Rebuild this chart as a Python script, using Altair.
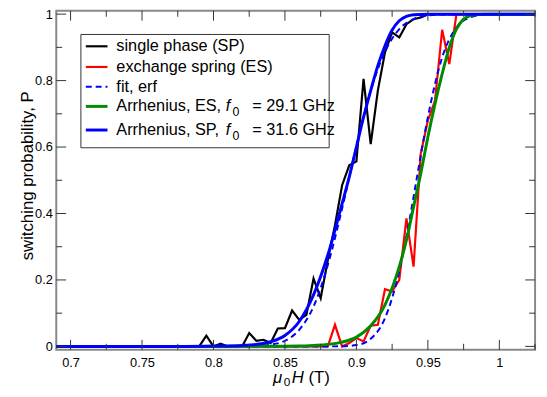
import altair as alt
import pandas as pd

FONT = "Liberation Sans"
W, H = 486, 344

# ---- measured data: single phase (SP) ----
sp_H = [0.69, 0.79, 0.795, 0.80, 0.805, 0.81, 0.82, 0.825, 0.83, 0.835, 0.84, 0.845, 0.85,
        0.855, 0.86, 0.865, 0.87, 0.875, 0.88, 0.885, 0.89, 0.895, 0.90, 0.905, 0.91,
        0.915, 0.92, 0.925, 0.93, 0.935, 0.94, 0.945, 0.95, 1.025]
sp_P = [0, 0, 0.032, 0, 0.008, 0, 0, 0.04, 0.017, 0.02, 0.01, 0.054, 0.055,
        0.108, 0.08, 0.095, 0.204, 0.145, 0.26, 0.365, 0.485, 0.545, 0.557, 0.805, 0.609,
        0.77, 0.885, 0.945, 0.93, 0.97, 0.985, 0.99, 1, 1]

# ---- measured data: exchange spring (ES) ----
es_H = [0.69, 0.88, 0.885, 0.89, 0.895, 0.90, 0.905, 0.91, 0.915, 0.92, 0.925, 0.93,
        0.935, 0.94, 0.945, 0.95, 0.955, 0.96, 0.965, 0.97, 1.025]
es_P = [0, 0, 0.065, 0, 0.01, 0.025, 0.015, 0.062, 0.065, 0.172, 0.165, 0.2,
        0.385, 0.24, 0.58, 0.68, 0.74, 0.953, 0.85, 1.0, 1.0]

# ---- erf fits ----
erf_sp_H = [0.69, 0.82, 0.83, 0.84, 0.85, 0.86, 0.87, 0.88, 0.89, 0.90, 0.91, 0.92,
            0.93, 0.94, 0.95, 0.96, 1.025]
erf_sp_P = [0, 0.0002, 0.001, 0.005, 0.017, 0.05, 0.12, 0.245, 0.415, 0.603, 0.77, 0.887,
            0.955, 0.985, 0.996, 0.999, 1]
erf_es_H = [0.69, 0.88, 0.89, 0.90, 0.91, 0.92, 0.93, 0.935, 0.94, 0.945, 0.95, 0.96,
            0.97, 0.98, 0.99, 1.025]
erf_es_P = [0, 0, 0.0006, 0.004, 0.023, 0.085, 0.227, 0.33, 0.45, 0.574, 0.69, 0.87,
            0.96, 0.991, 0.999, 1]

# ---- Arrhenius fits ----
arr_es_H = [0.69, 0.80, 0.85, 0.86, 0.87, 0.88, 0.89, 0.90, 0.91, 0.92, 0.93, 0.935,
            0.94, 0.945, 0.95, 0.955, 0.96, 0.965, 0.97, 0.975, 0.98, 0.99, 1.025]
arr_es_P = [0, 0, 0.0005, 0.001, 0.003, 0.006, 0.013, 0.028, 0.062, 0.125, 0.24, 0.32,
            0.42, 0.52, 0.63, 0.73, 0.82, 0.9, 0.955, 0.985, 0.996, 1, 1]
arr_sp_H = [0.69, 0.78, 0.80, 0.82, 0.83, 0.84, 0.85, 0.86, 0.87, 0.88, 0.89, 0.895,
            0.90, 0.905, 0.91, 0.915, 0.92, 0.925, 0.93, 0.935, 0.94, 0.95, 1.025]
arr_sp_P = [0, 0, 0.001, 0.003, 0.006, 0.014, 0.033, 0.075, 0.155, 0.275, 0.43, 0.51,
            0.60, 0.69, 0.77, 0.845, 0.905, 0.952, 0.98, 0.993, 0.998, 1, 1]

# ---- ticks ----
x_major = [0.7, 0.75, 0.8, 0.85, 0.9, 0.95, 1.0]
x_minor = [0.725, 0.775, 0.825, 0.875, 0.925, 0.975, 1.025]
y_major = [0, 0.2, 0.4, 0.6, 0.8, 1.0]
y_minor = [0.1, 0.3, 0.5, 0.7, 0.9]

legend_labels = ["single phase (SP)", "exchange spring (ES)", "fit, erf",
                 "Arrhenius, ES, ", "Arrhenius, SP, "]
legend_freqs = ["= 29.1 GHz", "= 31.6 GHz"]
y_title = "switching probability, P"

xs = alt.Scale(domain=[0.69, 1.025], nice=False, zero=False)
ys = alt.Scale(domain=[-0.01, 1.01], nice=False, zero=False)

x_axis = alt.Axis(values=x_major, format="~g", ticks=False, tickSize=0, domain=False,
                  grid=False, labelFont=FONT, labelFontSize=13, labelColor="black",
                  labelPadding=7)
y_axis = alt.Axis(values=y_major, format="~g", ticks=False, tickSize=0, domain=False,
                  grid=False, labelFont=FONT, labelFontSize=13, labelColor="black",
                  labelPadding=4, titleFont=FONT, titleFontSize=17,
                  titleFontWeight="normal", titleColor="black", titleAngle=270,
                  titleX=-29, titleY=167, titleAlign="center", titleBaseline="middle")

X = lambda f: alt.X(f + ":Q", scale=xs, axis=x_axis, title="")
Y = lambda f: alt.Y(f + ":Q", scale=ys, axis=y_axis, title=y_title)


def line(h, p, color, width, dash=None, interp="linear"):
    kw = dict(color=color, strokeWidth=width, interpolate=interp)
    if dash:
        kw["strokeDash"] = dash
    return alt.Chart(pd.DataFrame({"H": h, "P": p})).mark_line(**kw).encode(
        x=X("H"), y=Y("P"))


one = alt.Data(values=[{}])


def txt(s, x, y, size=16.5, style="normal", baseline="middle"):
    return alt.Chart(one).mark_text(text=s, align="left", baseline=baseline, font=FONT,
                                    fontSize=size, fontStyle=style, color="black").encode(
        x=alt.value(x), y=alt.value(y))


def sym(y, color, width, dash=None):
    kw = dict(color=color, strokeWidth=width)
    if dash:
        kw["strokeDash"] = dash
    return alt.Chart(one).mark_rule(**kw).encode(
        x=alt.value(30), x2=alt.value(52), y=alt.value(y))


layers = [
    line(sp_H, sp_P, "black", 2.2),
    line(es_H, es_P, "#ff0000", 2.2),
    line(erf_sp_H, erf_sp_P, "#0000ff", 2, [6, 4], "monotone"),
    line(erf_es_H, erf_es_P, "#0000ff", 2, [6, 4], "monotone"),
    line(arr_es_H, arr_es_P, "#008b00", 3, None, "monotone"),
    line(arr_sp_H, arr_sp_P, "#0000ff", 3, None, "monotone"),
]

# inward ticks on all four sides
tick_col = "#333333"
for vals, ln in [(x_major, 10), (x_minor, 6)]:
    d = pd.DataFrame({"v": vals})
    layers.append(alt.Chart(d).mark_rule(color=tick_col, strokeWidth=1).encode(
        x=X("v"), y=alt.value(H), y2=alt.value(H - ln)))
    layers.append(alt.Chart(d).mark_rule(color=tick_col, strokeWidth=1).encode(
        x=X("v"), y=alt.value(0), y2=alt.value(ln)))
for vals, ln in [(y_major, 10), (y_minor, 6)]:
    d = pd.DataFrame({"v": vals})
    layers.append(alt.Chart(d).mark_rule(color=tick_col, strokeWidth=1).encode(
        y=Y("v"), x=alt.value(0), x2=alt.value(ln)))
    layers.append(alt.Chart(d).mark_rule(color=tick_col, strokeWidth=1).encode(
        y=Y("v"), x=alt.value(W), x2=alt.value(W - ln)))

# legend
layers.append(alt.Chart(one).mark_rect(fill="white", stroke="#333333", strokeWidth=1).encode(
    x=alt.value(25), x2=alt.value(277), y=alt.value(24), y2=alt.value(139)))
rows = [36, 57, 77, 97, 121]
layers += [
    sym(rows[0], "black", 2.2),
    sym(rows[1], "#ff0000", 2.2),
    sym(rows[2], "#0000ff", 2, [6, 4]),
    sym(rows[3], "#008b00", 3),
    sym(rows[4], "#0000ff", 3),
    txt(legend_labels[0], 61, rows[0]),
    txt(legend_labels[1], 61, rows[1]),
    txt(legend_labels[2], 61, rows[2]),
]
for i, r in enumerate(rows[3:]):
    layers += [
        txt(legend_labels[3 + i], 61, r),
        txt("f", 172, r, style="italic"),
        txt("0", 179, r + 6, size=12.5),
        txt(legend_freqs[i], 199, r),
    ]

# x-axis title  mu_0 H (T)
layers += [
    txt("\u03bc", 220, 378, size=17, style="italic", baseline="alphabetic"),
    txt("0", 231, 381, size=12, baseline="alphabetic"),
    txt("H", 239, 378, size=17, style="italic", baseline="alphabetic"),
    txt("(T)", 256, 378, size=17, baseline="alphabetic"),
]

chart = alt.layer(*layers).properties(
    width=W, height=H,
    autosize=alt.AutoSizeParams(type="none"),
    padding={"left": 49, "top": 0, "right": 4, "bottom": 37},
    background="white",
).configure_view(stroke="#888888", strokeWidth=2)

chart.save("out.html", embed_options={"renderer": "svg", "actions": False})
